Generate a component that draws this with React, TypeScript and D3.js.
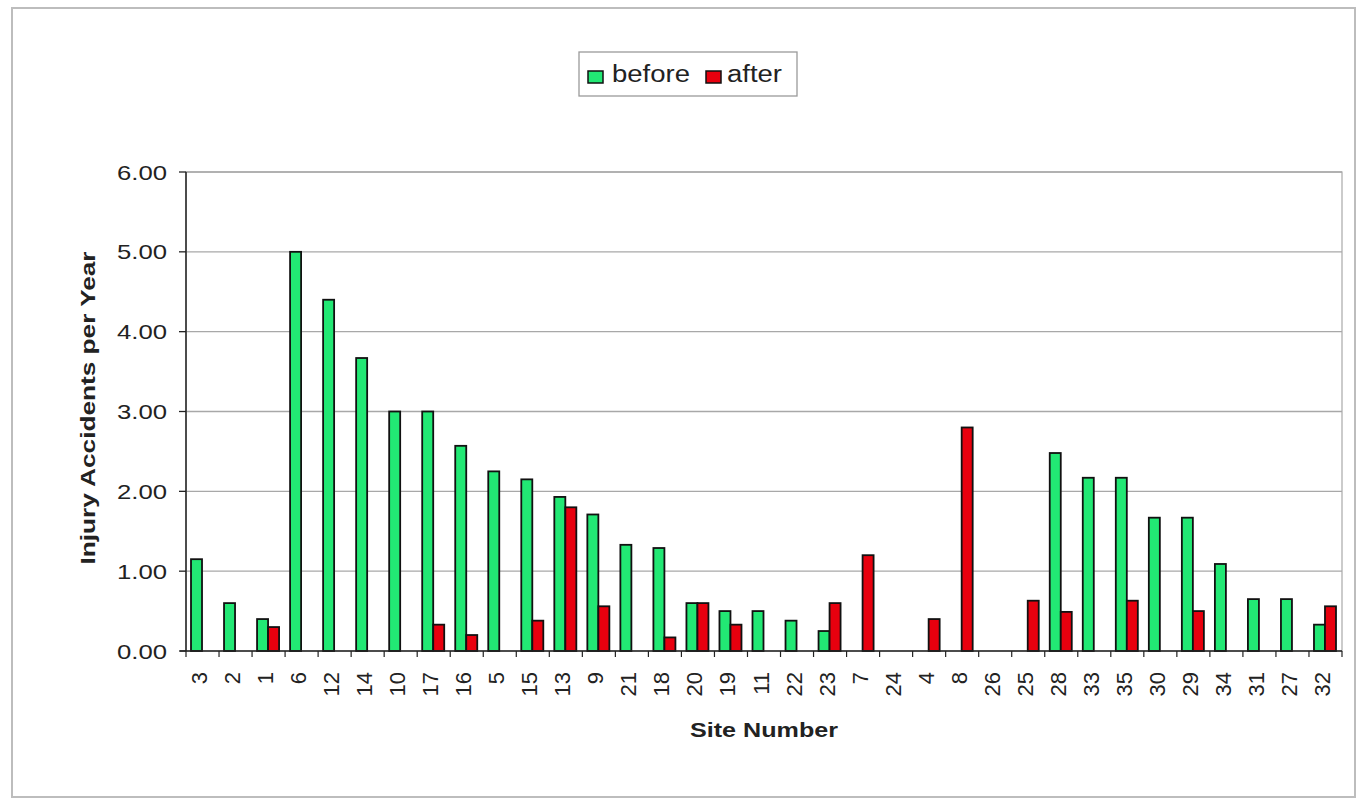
import React from "react";
import * as d3 from "d3";

const sites = ["3","2","1","6","12","14","10","17","16","5","15","13","9","21","18","20","19","11","22","23","7","24","4","8","26","25","28","33","35","30","29","34","31","27","32"];
const before = [1.15,0.6,0.4,5.0,4.4,3.67,3.0,3.0,2.57,2.25,2.15,1.93,1.71,1.33,1.29,0.6,0.5,0.5,0.38,0.25,0,0,0,0,0,0,2.48,2.17,2.17,1.67,1.67,1.09,0.65,0.65,0.33];
const after = [0,0,0.3,0,0,0,0,0.33,0.2,0,0.38,1.8,0.56,0,0.17,0.6,0.33,0,0,0.6,1.2,0,0.4,2.8,0,0.63,0.49,0,0.63,0,0.5,0,0,0,0.56];
const yTicks = [0, 1, 2, 3, 4, 5, 6];
const seriesNames = ["before", "after"];
const seriesColors = ["#22e874", "#e8000e"];

const W = 1358, H = 800;
const left = 186, right = 1342, top = 172, bottom = 651;
const font = "'Liberation Sans', Arial, sans-serif";

export default function App() {
  const x = d3.scaleBand<string>().domain(sites).range([left, right]).paddingInner(0).paddingOuter(0);
  const y = d3.scaleLinear().domain([0, 6]).range([bottom, top]);
  const inner = d3.scaleBand<string>().domain(seriesNames).range([x.bandwidth() / 3, x.bandwidth() * 2 / 3 + x.bandwidth() / 3]).padding(0);
  const bw = x.bandwidth() / 3;
  const series = [before, after];

  return (
    <svg width={W} height={H} style={{ position: "absolute", left: 0, top: 0, background: "#fff" }} fontFamily={font}>
      <rect x={12} y={8} width={1343} height={789} fill="#fff" stroke="#bdbdbd" strokeWidth={2} />
      <rect x={left} y={top} width={right - left} height={bottom - top} fill="none" stroke="#a8a8a8" strokeWidth={1.2} />
      {yTicks.filter(t => t > 0).map(t => (
        <line key={t} x1={left} x2={right} y1={y(t)} y2={y(t)} stroke="#a8a8a8" strokeWidth={1.3} />
      ))}
      {series.map((vals, si) =>
        vals.map((v, i) => v > 0 ? (
          <rect key={`${si}-${i}`}
            x={(x(sites[i]) as number) + (inner(seriesNames[si]) as number) - bw / 2 - 0.5}
            y={y(v)} width={bw} height={y(0) - y(v)}
            fill={seriesColors[si]} stroke="#111" strokeWidth={1.8} />
        ) : null)
      )}
      <line x1={left} x2={left} y1={top} y2={bottom} stroke="#222" strokeWidth={1.5} />
      <line x1={left - 6} x2={right} y1={bottom} y2={bottom} stroke="#222" strokeWidth={1.5} />
      {yTicks.map(t => (
        <g key={t}>
          <line x1={left - 7} x2={left} y1={y(t)} y2={y(t)} stroke="#222" strokeWidth={1.3} />
          <text x={167} y={y(t)} textAnchor="end" dominantBaseline="central" fontSize={21} fill="#222"
            textLength={50} lengthAdjust="spacingAndGlyphs">{t.toFixed(2)}</text>
        </g>
      ))}
      {sites.map(s => (
        <line key={s} x1={x(s) as number} x2={x(s) as number} y1={bottom} y2={bottom + 6} stroke="#222" strokeWidth={1.2} />
      ))}
      <line x1={right} x2={right} y1={bottom} y2={bottom + 6} stroke="#222" strokeWidth={1.2} />
      {sites.map(s => {
        const cx = (x(s) as number) + x.bandwidth() / 2 - 3;
        return (
          <text key={s} transform={`translate(${cx},672) rotate(-90)`} textAnchor="end" dominantBaseline="central"
            fontSize={22} fill="#222">{s}</text>
        );
      })}
      <text x={764} y={729} textAnchor="middle" dominantBaseline="central" fontSize={21} fontWeight="bold" fill="#222"
        textLength={148} lengthAdjust="spacingAndGlyphs">Site Number</text>
      <text transform={`translate(87,408) rotate(-90)`} textAnchor="middle" dominantBaseline="central" fontSize={21} fontWeight="bold" fill="#222"
        textLength={313} lengthAdjust="spacingAndGlyphs">Injury Accidents per Year</text>
      <rect x={579} y={52} width={218} height={44} fill="#fff" stroke="#9a9a9a" strokeWidth={1.3} />
      <rect x={588} y={71} width={15} height={12} fill={seriesColors[0]} stroke="#111" strokeWidth={1.5} />
      <text x={612} y={74} dominantBaseline="central" fontSize={23} fill="#222" textLength={78} lengthAdjust="spacingAndGlyphs">{seriesNames[0]}</text>
      <rect x={706} y={71} width={15} height={12} fill={seriesColors[1]} stroke="#111" strokeWidth={1.5} />
      <text x={727} y={74} dominantBaseline="central" fontSize={23} fill="#222" textLength={55} lengthAdjust="spacingAndGlyphs">{seriesNames[1]}</text>
    </svg>
  );
}
